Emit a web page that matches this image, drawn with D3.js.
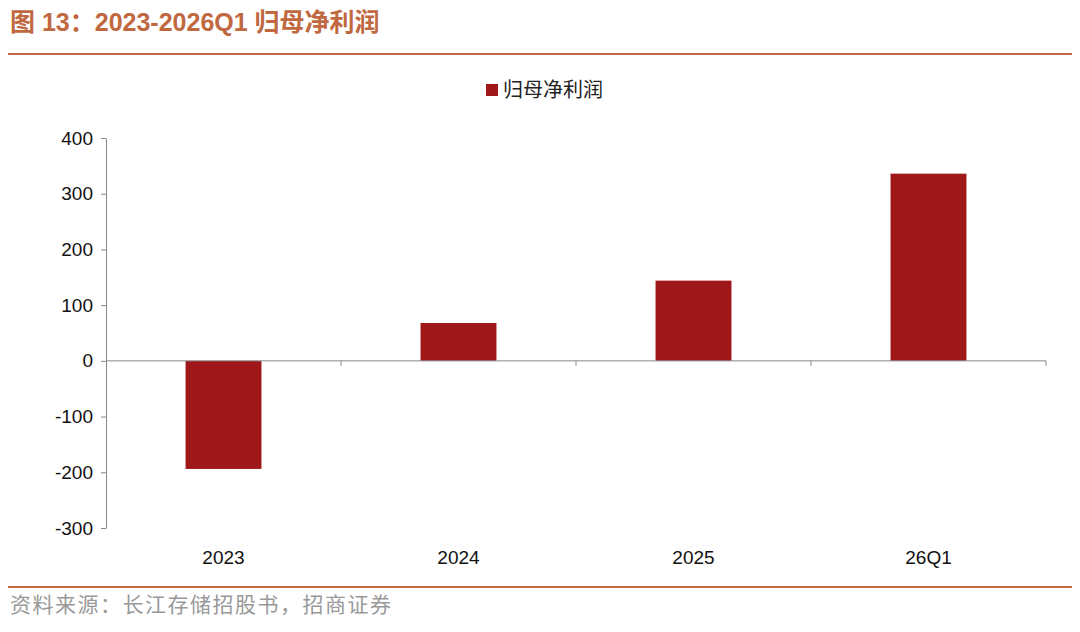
<!DOCTYPE html>
<html><head><meta charset="utf-8">
<script src="https://cdn.jsdelivr.net/npm/d3@7"></script>
<style>body{margin:0;background:#fff;font-family:"Liberation Sans",Arial,"Noto Sans CJK SC",sans-serif;}</style>
</head><body>
<script>
var categories = ["2023", "2024", "2025", "26Q1"];
var values = [-194, 68, 144, 336];
var yTicks = [400, 300, 200, 100, 0, -100, -200, -300];

var W = 1080, H = 632;
var svg = d3.select("body").append("svg").attr("width", W).attr("height", H);
var accent = "#c0683f";

svg.append("text").attr("x", 10).attr("y", 31)
    .attr("font-size", 25).attr("font-weight", "bold").attr("fill", accent)
    .attr("font-family", "'Liberation Sans','Noto Sans CJK SC',sans-serif")
    .text("图 13：2023-2026Q1 归母净利润");
svg.append("line").attr("x1", 8).attr("x2", 1072).attr("y1", 54).attr("y2", 54)
    .attr("stroke", accent).attr("stroke-width", 2);
svg.append("line").attr("x1", 8).attr("x2", 1072).attr("y1", 587).attr("y2", 587)
    .attr("stroke", accent).attr("stroke-width", 2);
svg.append("text").attr("x", 10).attr("y", 612)
    .attr("font-size", 21).attr("fill", "#999").attr("letter-spacing", 1.5)
    .attr("font-family", "'Noto Sans CJK SC',sans-serif")
    .text("资料来源：长江存储招股书，招商证券");

var x = d3.scaleBand().domain(categories).range([106, 1046]).paddingInner(0.677).paddingOuter(0.3385);
var y = d3.scaleLinear().domain([-300, 400]).range([528, 138]);
var color = "#a0171a";

// legend
svg.append("rect").attr("x", 486).attr("y", 84).attr("width", 12).attr("height", 12).attr("fill", color);
svg.append("text").attr("x", 503).attr("y", 97).attr("font-size", 20).attr("fill", "#222")
    .attr("font-family", "'Noto Sans CJK SC',sans-serif").text("归母净利润");

// y axis
var yAxis = svg.append("g").attr("transform", "translate(106,0)")
    .call(d3.axisLeft(y).tickValues(yTicks).tickSize(5).tickSizeOuter(0).tickPadding(8)
        .tickFormat(function(d) { return d < 0 ? "-" + Math.abs(d) : d; }));
yAxis.select(".domain").attr("stroke", "#888");
yAxis.selectAll(".tick line").attr("stroke", "#888");
yAxis.selectAll("text").attr("font-size", 19).attr("fill", "#111")
    .attr("font-family", "'Liberation Sans',Arial,sans-serif");

// bars
svg.selectAll(".bar").data(values).enter().append("rect")
    .attr("x", function(d, i) { return x(categories[i]); })
    .attr("width", x.bandwidth())
    .attr("y", function(d) { return y(Math.max(0, d)); })
    .attr("height", function(d) { return Math.abs(y(d) - y(0)); })
    .attr("fill", color);

// zero line with band ticks
var step = x.step();
svg.append("line").attr("x1", 106).attr("x2", 1046).attr("y1", y(0)).attr("y2", y(0)).attr("stroke", "#888");
categories.forEach(function(c, i) {
    var bx = 106 + step * (i + 1);
    svg.append("line").attr("x1", bx).attr("x2", bx).attr("y1", y(0)).attr("y2", y(0) + 5).attr("stroke", "#888");
    svg.append("text").attr("x", x(c) + x.bandwidth() / 2).attr("y", 564)
        .attr("text-anchor", "middle").attr("font-size", 19).attr("fill", "#111").text(c);
});
</script>
</body></html>
